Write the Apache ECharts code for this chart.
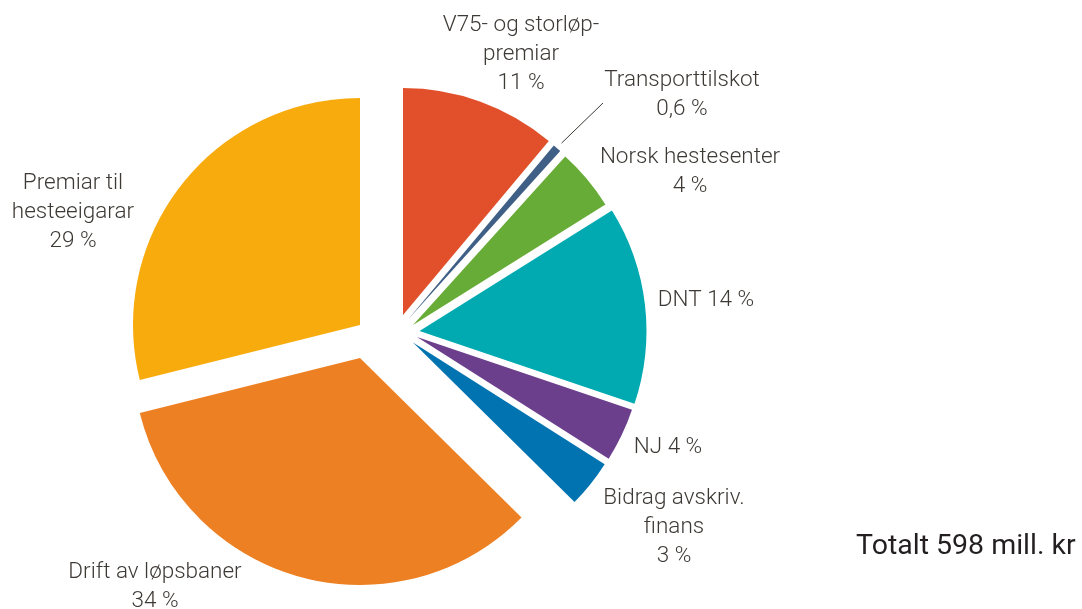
<!DOCTYPE html>
<html>
<head>
<meta charset="utf-8">
<script src="https://cdn.jsdelivr.net/npm/echarts@6/dist/echarts.min.js"></script>
<style>
  html, body { margin: 0; background: #fff; }
  #main { width: 1082px; height: 609px; }
</style>
</head>
<body>
<div id="main"></div>
<script>
// slices, clockwise from 12 o'clock
const categories = ['V75- og storløp-\npremiar', 'Transporttilskot', 'Norsk hestesenter', 'DNT', 'NJ',
  'Bidrag avskriv.\nfinans', 'Drift av løpsbaner', 'Premiar til\nhesteeigarar'];
const shares = [11.1, 0.6, 4.4, 14.1, 3.8, 3.4, 33.7, 28.9];
const inlineNames = ['DNT', 'NJ'];
const totalText = 'Totalt 598 mill. kr';

const colors = ['#e1502a', '#3f5f86', '#68ac38', '#00aab0', '#6b3f8c', '#0073b0', '#ed8023', '#f7ab0d'];

// each piece is pulled apart by hand, so every slice gets its own centre
const radius = 227;
const pieceCenter = [[403, 315], [408, 319.5], [413, 325], [419.5, 331], [417, 337], [413, 342.5], [360, 358], [360, 325]];
const labelAt = [[521, 54], [682, 95], [690, 172], [706, 300], [668, 447], [674, 527], [155, 587], [73, 212]];
const leaderEnd = [603, 103];

const textColor = '#3d3935';

function pct(v) {
  return v < 1 ? v.toFixed(1).replace('.', ',') : String(Math.round(v));
}

function midAngle(idx) {
  const sum = shares.reduce((a, b) => a + b, 0);
  let acc = 0;
  for (let i = 0; i < idx; i++) acc += shares[i];
  return (acc + shares[idx] / 2) / sum * Math.PI * 2;
}

const chart = echarts.init(document.getElementById('main'));

const series = categories.map((_, k) => ({
  type: 'pie',
  silent: true,
  animation: false,
  center: pieceCenter[k],
  radius: radius,
  startAngle: 90,
  clockwise: true,
  avoidLabelOverlap: false,
  label: {
    color: textColor,
    fontFamily: 'Roboto',
    fontWeight: 300,
    fontSize: 22.5,
    lineHeight: 29,
    formatter: (p) => p.name + (inlineNames.indexOf(p.name) >= 0 ? ' ' : '\n') + pct(p.value) + ' %'
  },
  labelLine: { show: false },
  labelLayout: (p) => {
    const out = { x: labelAt[p.dataIndex][0], y: labelAt[p.dataIndex][1], align: 'center', verticalAlign: 'middle' };
    if (p.dataIndex === 1) {
      const a = midAngle(1);
      const c = pieceCenter[1];
      out.labelLinePoints = [[c[0] + (radius + 7) * Math.sin(a), c[1] - (radius + 7) * Math.cos(a)], leaderEnd];
    }
    return out;
  },
  data: categories.map((name, i) => ({
    name: name,
    value: shares[i],
    itemStyle: { color: i === k ? colors[i] : 'rgba(0,0,0,0)' },
    label: { show: i === k },
    labelLine: { show: i === k && i === 1, lineStyle: { color: textColor, width: 1 } }
  }))
}));

chart.setOption({
  animation: false,
  series: series,
  graphic: [{
    type: 'text',
    left: 856,
    top: 532,
    style: {
      text: totalText,
      font: '400 28.5px Roboto',
      fill: '#231f20'
    }
  }]
});
</script>
</body>
</html>
